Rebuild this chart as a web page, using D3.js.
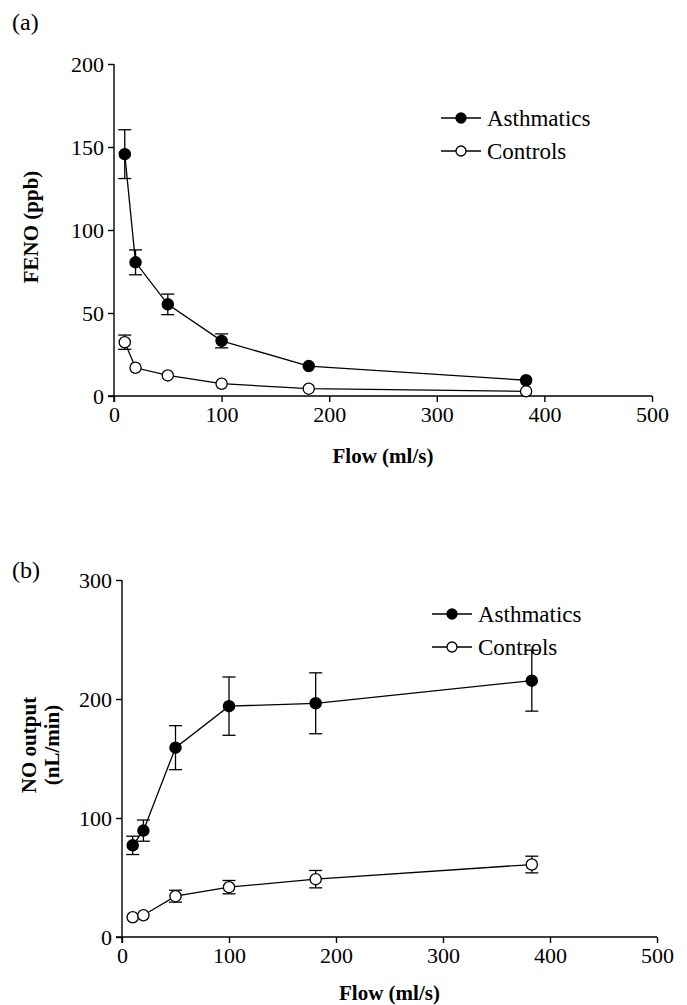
<!DOCTYPE html>
<html>
<head>
<meta charset="utf-8">
<script src="https://cdn.jsdelivr.net/npm/d3@7"></script>
<style>
  body { margin: 0; background: #fff; }
  svg { display: block; }
  text { font-family: "Liberation Serif", "DejaVu Serif", serif; fill: #000; }
</style>
</head>
<body>
<div id="chart"></div>
<script>
// flow rates (ml/s)
const flow = [10, 20, 50, 100, 181, 383];

// panel (a) FENO (ppb), mean and error
const fenoAsthma = [145.7, 80.5, 55.2, 33.2, 18, 9.5];
const fenoAsthmaErr = [14.7, 7.5, 6.2, 4.2, 0, 0];
const fenoControl = [32.4, 17, 12.4, 7.4, 4.4, 2.8];
const fenoControlErr = [4.3, 0, 0, 0, 0, 0];

// panel (b) NO output (nL/min)
const noAsthma = [77, 89.4, 159.1, 194, 196.4, 215.4];
const noAsthmaErr = [7.7, 8.9, 18.5, 24.5, 25.6, 25.6];
const noControl = [16.6, 18.3, 34.3, 41.9, 48.6, 60.9];
const noControlErr = [0, 0, 5, 5.6, 7.3, 7];

const xTicks = [0, 100, 200, 300, 400, 500];
const fenoTicks = [0, 50, 100, 150, 200];
const noTicks = [0, 100, 200, 300];
const seriesNames = ["Asthmatics", "Controls"];

const width = 687, height = 1005;

const svg = d3.select("#chart").append("svg")
    .attr("width", width)
    .attr("height", height);

svg.append("rect").attr("width", width).attr("height", height).attr("fill", "#fff");

function drawPanel(opt) {
  const x = d3.scaleLinear().domain([0, 500]).range([opt.left, opt.right]);
  const y = d3.scaleLinear().domain([0, opt.ymax]).range([opt.bottom, opt.top]);
  const g = svg.append("g");

  // axes
  const xAxis = d3.axisBottom(x).tickValues(xTicks).tickSize(6).tickSizeOuter(0).tickPadding(4);
  const yAxis = d3.axisLeft(y).tickValues(opt.yTicks).tickSize(6).tickSizeOuter(0).tickPadding(4);

  g.append("g")
      .attr("transform", `translate(0,${opt.bottom})`)
      .call(xAxis)
      .call(a => a.select(".domain").attr("d", `M${opt.left - 6},0H${opt.right}`));
  g.append("g")
      .attr("transform", `translate(${opt.left},0)`)
      .call(yAxis)
      .call(a => a.select(".domain").attr("d", `M0,${opt.top}V${opt.bottom + 6}`));

  g.selectAll(".domain, .tick line").attr("stroke", "#000").attr("stroke-width", 1.4);
  g.selectAll(".tick text")
      .style("font-family", "'Liberation Serif', serif")
      .style("font-size", "22px")
      .attr("fill", "#000");

  // axis titles
  g.append("text")
      .attr("x", (opt.left + opt.right) / 2)
      .attr("y", opt.xTitleY)
      .attr("text-anchor", "middle")
      .style("font-size", "21px")
      .style("font-weight", "bold")
      .text("Flow (ml/s)");

  const yt = g.append("text")
      .attr("transform", `translate(${opt.yTitleX},${opt.yTitleY}) rotate(-90)`)
      .attr("text-anchor", "middle")
      .style("font-size", "21px")
      .style("font-weight", "bold");
  opt.yTitle.forEach((line, i) => {
    yt.append("tspan").attr("x", 0).attr("dy", i === 0 ? 0 : "1.1em").text(line);
  });

  g.append("text")
      .attr("x", 12)
      .attr("y", opt.labelY)
      .style("font-size", "24px")
      .text(opt.label);

  const line = d3.line().x(d => x(d.x)).y(d => y(d.y));

  opt.series.forEach(s => {
    const pts = flow.map((f, i) => ({x: f, y: s.values[i], e: s.errs[i]}));
    const eb = g.append("g").attr("stroke", "#000").attr("stroke-width", 1.3);
    pts.filter(d => d.e > 0).forEach(d => {
      eb.append("line").attr("x1", x(d.x)).attr("x2", x(d.x)).attr("y1", y(d.y - d.e)).attr("y2", y(d.y + d.e));
      eb.append("line").attr("x1", x(d.x) - 6.5).attr("x2", x(d.x) + 6.5).attr("y1", y(d.y + d.e)).attr("y2", y(d.y + d.e));
      eb.append("line").attr("x1", x(d.x) - 6.5).attr("x2", x(d.x) + 6.5).attr("y1", y(d.y - d.e)).attr("y2", y(d.y - d.e));
    });
    g.append("path").datum(pts)
        .attr("d", line)
        .attr("fill", "none")
        .attr("stroke", "#000")
        .attr("stroke-width", 1.3);
    g.selectAll(null).data(pts).join("circle")
        .attr("cx", d => x(d.x))
        .attr("cy", d => y(d.y))
        .attr("r", 5.6)
        .attr("fill", s.filled ? "#000" : "#fff")
        .attr("stroke", "#000")
        .attr("stroke-width", 1.3);
  });

  // legend
  const lg = g.append("g").attr("transform", `translate(${opt.legendX},${opt.legendY})`);
  opt.series.forEach((s, i) => {
    const row = lg.append("g").attr("transform", `translate(0,${i * 33})`);
    row.append("line").attr("x1", 0).attr("x2", 40).attr("y1", 0).attr("y2", 0)
        .attr("stroke", "#000").attr("stroke-width", 1.3);
    row.append("circle").attr("cx", 20).attr("cy", 0).attr("r", 5)
        .attr("fill", s.filled ? "#000" : "#fff").attr("stroke", "#000").attr("stroke-width", 1.3);
    row.append("text").attr("x", 46).attr("y", 8)
        .style("font-size", "23px")
        .text(seriesNames[i]);
  });
}

drawPanel({
  left: 114, right: 652, top: 64, bottom: 396,
  ymax: 200, yTicks: fenoTicks,
  yTitle: ["FENO (ppb)"], yTitleX: 38, yTitleY: 227,
  xTitleY: 463, label: "(a)", labelY: 30,
  legendX: 441, legendY: 118,
  series: [
    {values: fenoAsthma, errs: fenoAsthmaErr, filled: true},
    {values: fenoControl, errs: fenoControlErr, filled: false}
  ]
});

drawPanel({
  left: 122, right: 657, top: 580, bottom: 937,
  ymax: 300, yTicks: noTicks,
  yTitle: ["NO output", "(nL/min)"], yTitleX: 36, yTitleY: 745,
  xTitleY: 1000, label: "(b)", labelY: 578,
  legendX: 432, legendY: 614,
  series: [
    {values: noAsthma, errs: noAsthmaErr, filled: true},
    {values: noControl, errs: noControlErr, filled: false}
  ]
});
</script>
</body>
</html>
